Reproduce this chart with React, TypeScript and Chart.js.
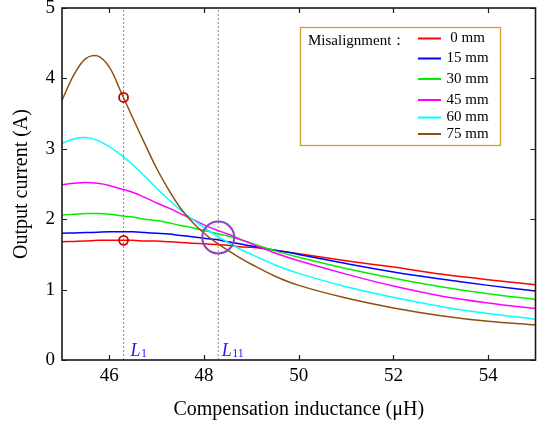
import React, { useEffect, useRef } from 'react';
import { Chart, registerables } from 'chart.js';

Chart.register(...registerables);

// ---------- data ----------
const X_VALUES = [45, 45.25, 45.5, 45.75, 46, 46.25, 46.5, 46.75, 47, 47.25, 47.5, 47.75, 48, 48.25, 48.5, 48.75, 49, 49.5, 50, 51, 52, 53, 54, 55];

const SERIES_LABELS = ['0 mm', '15 mm', '30 mm', '45 mm', '60 mm', '75 mm'];
const SERIES_COLORS = ['#ff0000', '#0000ff', '#00ee00', '#ff00ff', '#00ffff', '#8f4f10'];

const MIS_0 = [1.68, 1.685, 1.69, 1.70, 1.70, 1.70, 1.70, 1.69, 1.69, 1.68, 1.67, 1.66, 1.65, 1.64, 1.63, 1.61, 1.60, 1.56, 1.51, 1.41, 1.32, 1.22, 1.14, 1.07];
const MIS_15 = [1.80, 1.805, 1.81, 1.815, 1.82, 1.82, 1.82, 1.81, 1.80, 1.79, 1.77, 1.75, 1.73, 1.71, 1.68, 1.65, 1.62, 1.56, 1.50, 1.37, 1.25, 1.15, 1.06, 0.98];
const MIS_30 = [2.06, 2.07, 2.08, 2.08, 2.07, 2.05, 2.03, 2.00, 1.98, 1.95, 1.91, 1.88, 1.84, 1.80, 1.76, 1.71, 1.66, 1.55, 1.46, 1.30, 1.16, 1.04, 0.94, 0.86];
const MIS_45 = [2.49, 2.51, 2.52, 2.51, 2.48, 2.43, 2.38, 2.31, 2.23, 2.16, 2.08, 2.00, 1.92, 1.85, 1.79, 1.72, 1.65, 1.52, 1.41, 1.22, 1.05, 0.91, 0.81, 0.73];
const MIS_60 = [3.08, 3.14, 3.16, 3.12, 3.03, 2.91, 2.77, 2.61, 2.44, 2.28, 2.13, 2.00, 1.88, 1.77, 1.67, 1.58, 1.50, 1.35, 1.23, 1.04, 0.89, 0.76, 0.66, 0.58];
const MIS_75 = [3.69, 4.05, 4.28, 4.32, 4.16, 3.80, 3.43, 3.07, 2.72, 2.42, 2.16, 1.96, 1.80, 1.67, 1.56, 1.455, 1.36, 1.19, 1.06, 0.88, 0.74, 0.63, 0.55, 0.50];

const SERIES = [MIS_0, MIS_15, MIS_30, MIS_45, MIS_60, MIS_75];

const X_TICKS = [46, 48, 50, 52, 54];
const Y_TICKS = [0, 1, 2, 3, 4, 5];
const X_MIN = 45;
const X_MAX = 55;
const Y_MIN = 0;
const Y_MAX = 5;

const REF_LINES_X = [46.3, 48.3];
const REF_LINE_SUBS = ['1', '11'];
const MARKED_POINTS = [{ x: 46.3, y: 3.73 }, { x: 46.3, y: 1.70 }];
const CROSS_POINT = [{ x: 48.3, y: 1.74 }];

const LEGEND_TITLE = 'Misalignment：';
const X_TITLE = 'Compensation inductance (μH)';
const Y_TITLE = 'Output current (A)';

const SERIF = '"Liberation Serif", "Times New Roman", serif';

const decorPlugin = {
  id: 'decor',
  afterDraw(chart: any) {
    const { ctx, chartArea, scales } = chart;
    const xs = scales.x;
    const ys = scales.y;
    const { left, right, top, bottom } = chartArea;
    ctx.save();

    // frame
    ctx.strokeStyle = '#1a1a1a';
    ctx.lineWidth = 1.6;
    ctx.strokeRect(left, top, right - left, bottom - top);

    // inward ticks
    const tl = 5;
    ctx.lineWidth = 1.2;
    ctx.beginPath();
    X_TICKS.forEach((v) => {
      const px = Math.round(xs.getPixelForValue(v)) + 0.5;
      ctx.moveTo(px, bottom);
      ctx.lineTo(px, bottom - tl);
      ctx.moveTo(px, top);
      ctx.lineTo(px, top + tl);
    });
    Y_TICKS.forEach((v) => {
      const py = Math.round(ys.getPixelForValue(v)) + 0.5;
      ctx.moveTo(left, py);
      ctx.lineTo(left + tl, py);
      ctx.moveTo(right, py);
      ctx.lineTo(right - tl, py);
    });
    ctx.stroke();

    // L labels
    const offsets = [7, 3.5];
    REF_LINES_X.forEach((v, i) => {
      const px = xs.getPixelForValue(v) + offsets[i];
      const base = ys.getPixelForValue(0) - 4;
      ctx.fillStyle = '#1a1aff';
      ctx.textBaseline = 'alphabetic';
      ctx.textAlign = 'left';
      ctx.font = `italic 18px ${SERIF}`;
      ctx.fillText('L', px, base);
      const w = ctx.measureText('L').width;
      ctx.font = `12px ${SERIF}`;
      ctx.fillText(REF_LINE_SUBS[i], px + w + 0.5, base + 1);
    });

    // legend box
    const bx = 300.5, by = 27.5, bw = 200, bh = 118;
    ctx.fillStyle = '#ffffff';
    ctx.fillRect(bx, by, bw, bh);
    ctx.strokeStyle = '#cf9f2f';
    ctx.lineWidth = 1.3;
    ctx.strokeRect(bx, by, bw, bh);

    ctx.fillStyle = '#000';
    ctx.font = `15px ${SERIF}`;
    ctx.textBaseline = 'middle';
    ctx.textAlign = 'left';
    ctx.fillText(LEGEND_TITLE, 308, 41);

    const rows = [38.5, 58.5, 79, 100, 117.5, 134];
    SERIES_LABELS.forEach((lab, i) => {
      const y = rows[i];
      ctx.strokeStyle = SERIES_COLORS[i];
      ctx.lineWidth = 2;
      ctx.beginPath();
      ctx.moveTo(418, y);
      ctx.lineTo(441, y);
      ctx.stroke();
      ctx.fillStyle = '#000';
      ctx.textAlign = 'center';
      ctx.fillText(lab, 467.5, y);
    });

    ctx.restore();
  },
};

export default function App() {
  const canvasRef = useRef<HTMLCanvasElement | null>(null);

  useEffect(() => {
    const canvas = canvasRef.current;
    if (!canvas) return;

    const curveSets = SERIES.map((vals, i) => ({
      type: 'line' as const,
      label: SERIES_LABELS[i],
      data: X_VALUES.map((x, j) => ({ x, y: vals[j] })),
      borderColor: SERIES_COLORS[i],
      backgroundColor: SERIES_COLORS[i],
      borderWidth: 1.5,
      pointRadius: 0,
      tension: 0.35,
      fill: false,
      order: 6 - i,
    }));

    const refSets = REF_LINES_X.map((v) => ({
      type: 'line' as const,
      label: 'ref',
      data: [{ x: v, y: Y_MIN }, { x: v, y: Y_MAX }],
      borderColor: '#8a8a8a',
      borderWidth: 1,
      borderDash: [2, 2],
      pointRadius: 0,
      fill: false,
      order: 10,
    }));

    const markerSet = {
      type: 'line' as const,
      label: 'marks',
      data: MARKED_POINTS,
      showLine: false,
      pointRadius: 4.5,
      pointBorderWidth: 1.8,
      pointBorderColor: '#cc0000',
      pointBackgroundColor: 'rgba(0,0,0,0)',
      order: 0,
    };
    const crossSet = {
      type: 'line' as const,
      label: 'cross',
      data: CROSS_POINT,
      showLine: false,
      pointRadius: 16,
      pointBorderWidth: 2,
      pointBorderColor: '#8a45b5',
      pointBackgroundColor: 'rgba(0,0,0,0)',
      order: 0,
    };

    const chart = new Chart(canvas, {
      type: 'line',
      data: { datasets: [...curveSets, ...refSets, markerSet, crossSet] as any },
      options: {
        animation: false,
        responsive: false,
        maintainAspectRatio: false,
        devicePixelRatio: 1,
        layout: { autoPadding: false, padding: { top: 8, right: 1.5, left: 0, bottom: 0 } },
        plugins: {
          legend: { display: false },
          tooltip: { enabled: false },
          title: { display: false },
        },
        scales: {
          x: {
            type: 'linear',
            min: X_MIN,
            max: X_MAX,
            grid: { display: false, drawTicks: false },
            border: { display: false },
            afterBuildTicks: (s: any) => {
              s.ticks = X_TICKS.map((v) => ({ value: v }));
            },
            afterFit: (s: any) => {
              s.height = 62;
              s.paddingLeft = 0;
              s.paddingRight = 0;
            },
            ticks: {
              color: '#000',
              padding: 5,
              font: { family: SERIF, size: 19 },
              callback: (v: any) => String(v),
            },
            title: {
              display: true,
              text: X_TITLE,
              color: '#000',
              font: { family: SERIF, size: 20 },
              padding: { top: 2, bottom: 0 },
            },
          },
          y: {
            type: 'linear',
            min: Y_MIN,
            max: Y_MAX,
            grid: { display: false, drawTicks: false },
            border: { display: false },
            afterBuildTicks: (s: any) => {
              s.ticks = Y_TICKS.map((v) => ({ value: v }));
            },
            afterFit: (s: any) => {
              s.width = 62;
              s.paddingTop = 0;
              s.paddingBottom = 0;
            },
            ticks: {
              color: '#000',
              padding: 7,
              font: { family: SERIF, size: 19 },
              callback: (v: any) => String(v),
            },
            title: {
              display: true,
              text: Y_TITLE,
              color: '#000',
              font: { family: SERIF, size: 20 },
              padding: { top: 10, bottom: 0 },
            },
          },
        },
      },
      plugins: [decorPlugin],
    });

    return () => {
      chart.destroy();
    };
  }, []);

  return (
    <div style={{ position: 'fixed', left: 0, top: 0, width: 537, height: 422, background: '#fff' }}>
      <canvas ref={canvasRef} width={537} height={422} style={{ width: 537, height: 422, display: 'block' }} />
    </div>
  );
}
